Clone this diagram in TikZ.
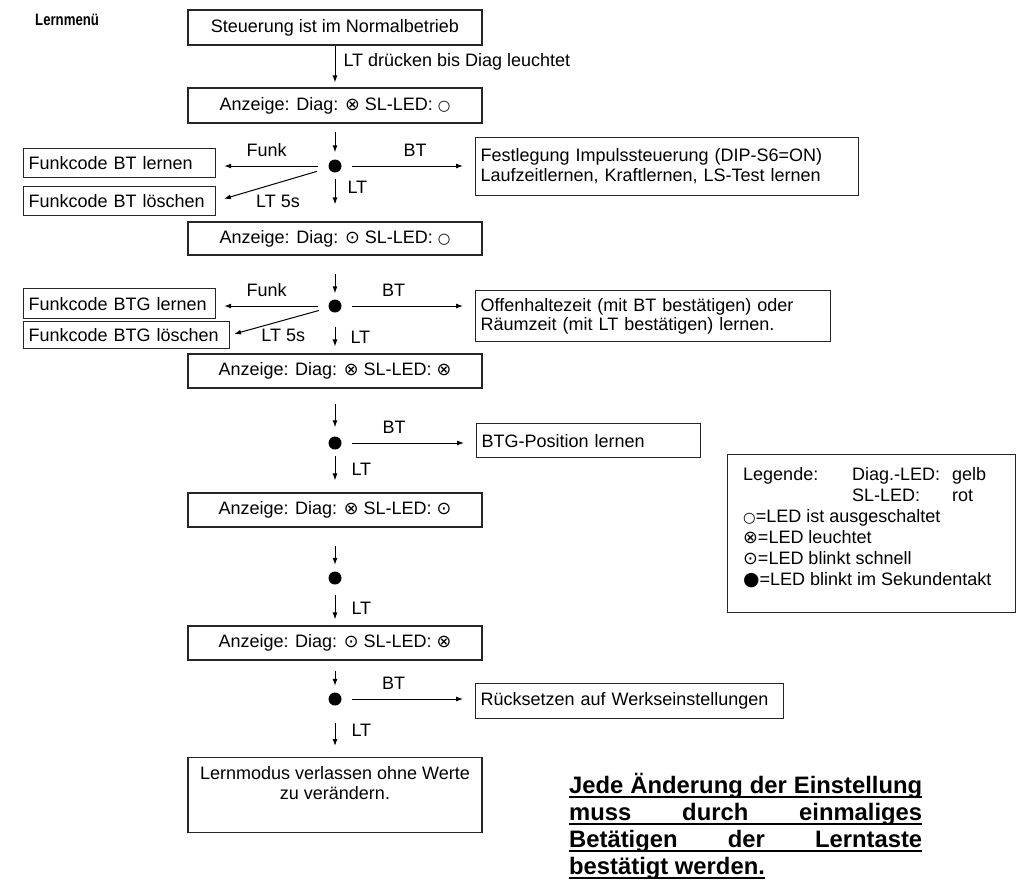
\documentclass[tikz,border=0pt]{standalone}
\usepackage{fontspec}
\setmainfont{Liberation Sans}
\newfontfamily\symf[Scale=0.8]{DejaVu Sans}
\newfontfamily\symg[Scale=0.98]{DejaVu Sans}
\newfontfamily\symh[Scale=1.05]{DejaVu Sans}
\newfontfamily\titlef[FakeStretch=0.8]{Liberation Sans}
\usetikzlibrary{arrows.meta,calc}
\newcommand{\ledoff}{{\symf ○}}
\newcommand{\ledon}{{\symg ⊗}}
\newcommand{\ledfast}{{\symg ⊙}}
\newcommand{\ledsec}{{\symh ●}}
\begin{document}
\begin{tikzpicture}[x=1pt,y=-1pt,
  txt/.style={font=\fontsize{18}{20}\selectfont},
  box/.style={draw=black!85, line width=1.2pt},
  mbox/.style={box, txt, minimum width=294pt, inner sep=0pt},
  sbox/.style={box, txt, anchor=north west, align=left, inner xsep=5pt, inner ysep=0pt},
  dot/.style={circle, fill=black, inner sep=0pt, minimum size=13pt},
  arr/.style={-{Latex[length=7pt,width=5pt]}, line width=1pt},
  lbl/.style={txt, inner sep=0pt},
  bt/.style={font=\bfseries\fontsize{23.8}{27}\selectfont, inner sep=0pt, anchor=base west},
  uline/.style={line width=2pt},
]
\useasboundingbox (0,0) rectangle (1017,879);

% title
\node[anchor=base west, inner sep=0pt, font=\titlef\bfseries\fontsize{16.5}{18}\selectfont] (title) at (35,25) {Lernmenü};

% main column
\node[mbox, minimum height=35pt] (b1) at (335,27.5) {Steuerung ist im Normalbetrieb};
\node[mbox, minimum height=35pt] (b2) at (335,105.5) {Anzeige: Diag: \ledon\ SL-LED: \ledoff};
\node[dot] (d1) at (335,166) {};
\node[mbox, minimum height=33pt] (b3) at (335,238.5) {Anzeige: Diag: \ledfast\ SL-LED: \ledoff};
\node[dot] (d2) at (335,306) {};
\node[mbox, minimum height=34pt] (b4) at (335,371) {Anzeige: Diag: \ledon\ SL-LED: \ledon};
\node[dot] (d3) at (335,443) {};
\node[mbox, minimum height=34pt] (b5) at (335,510) {Anzeige: Diag: \ledon\ SL-LED: \ledfast};
\node[dot] (d4) at (335,578) {};
\node[mbox, minimum height=34pt] (b6) at (335,643) {Anzeige: Diag: \ledfast\ SL-LED: \ledon};
\node[dot] (d5) at (335,699) {};
\node[mbox, minimum height=75pt, anchor=north,
  label={[txt, align=center, anchor=north, yshift=-9pt, inner sep=0pt]north:Lernmodus verlassen ohne Werte\\zu verändern.}] (b7) at (335,757) {};

% side boxes
\node[sbox, text width=182pt, minimum height=29pt] (btlern) at (23,148) {Funkcode BT lernen};
\node[sbox, text width=182pt, minimum height=29pt] (btloe) at (23,186) {Funkcode BT löschen};
\node[sbox, text width=373pt, minimum height=58pt] (fest) at (475,137) {Festlegung Impulssteuerung (DIP-S6=ON)\\Laufzeitlernen, Kraftlernen, LS-Test lernen};
\node[sbox, text width=182pt, minimum height=30pt] (btglern) at (23,288) {Funkcode BTG lernen};
\node[sbox, text width=196pt, minimum height=27pt] (btgloe) at (23,321) {Funkcode BTG löschen};
\node[sbox, text width=345pt, minimum height=51pt, font=\fontsize{18}{18.5}\selectfont] (offen) at (475,290) {Offenhaltezeit (mit BT bestätigen) oder\\Räumzeit (mit LT bestätigen) lernen.};
\node[sbox, text width=214pt, minimum height=34pt] (btgpos) at (476,423) {BTG-Position lernen};
\node[sbox, text width=298pt, minimum height=35pt] (ruecks) at (475,683) {Rücksetzen auf Werkseinstellungen};

% main arrows
\draw[arr, shorten >=5pt] (b1) -- node[lbl, pos=0.4, right=8pt]{LT drücken bis Diag leuchtet} (b2);
\draw[arr, shorten <=8pt, shorten >=7pt] (b2) -- (d1);
\draw[arr, shorten <=6.5pt, shorten >=17pt] (d1) -- node[lbl, pos=0.3, right=12pt]{LT} (b3);
\draw[arr, shorten <=18pt, shorten >=6pt] (b3) -- (d2);
\draw[arr, shorten <=14pt, shorten >=7pt] (d2) -- node[lbl, pos=0.6, right=15pt]{LT} (b4);
\draw[arr, shorten <=15pt, shorten >=9pt] (b4) -- (d3);
\draw[arr, shorten <=6.5pt, shorten >=12pt] (d3) -- node[lbl, pos=0.47, right=16pt]{LT} (b5);
\draw[arr, shorten <=18pt, shorten >=6.5pt] (b5) -- (d4);
\draw[arr, shorten <=10.5pt, shorten >=6pt] (d4) -- node[lbl, pos=0.59, right=16pt]{LT} (b6);
\draw[arr, shorten <=10pt, shorten >=6.5pt] (b6) -- (d5);
\draw[arr, shorten <=17pt, shorten >=11pt] (d5) -- node[lbl, pos=0.48, right=16pt]{LT} (b7);

% branch arrows
\draw[arr, shorten <=10pt, shorten >=8pt] (d1) -- node[lbl, pos=0.55, above=9pt]{Funk} (d1 -| btlern.east);
\draw[arr, shorten <=10pt, shorten >=12pt] (d1) -- node[lbl, pos=0.55, above=9pt]{BT} (d1 -| fest.west);
\draw[arr, shorten <=12pt, shorten >=8pt] (d1) -- node[lbl, pos=0.45, below=12pt]{LT 5s} (btloe.east);

\draw[arr, shorten <=10pt, shorten >=8pt] (d2) -- node[lbl, pos=0.55, above=9pt]{Funk} (d2 -| btglern.east);
\draw[arr, shorten <=10pt, shorten >=12pt] (d2) -- node[lbl, pos=0.39, above=9pt]{BT} (d2 -| offen.west);
\draw[arr, shorten <=10pt, shorten >=4pt] (d2) -- node[lbl, pos=0.46, below=8pt]{LT 5s} (btgloe.east);

\draw[arr, shorten <=10pt, shorten >=12pt] (d3) -- node[lbl, pos=0.39, above=9pt]{BT} (d3 -| btgpos.west);
\draw[arr, shorten <=10pt, shorten >=12pt] (d5) -- node[lbl, pos=0.39, above=9pt]{BT} (d5 -| ruecks.west);

% legend
\node[box, anchor=north west, minimum width=288pt, minimum height=158pt, inner sep=0pt] (leg) at (727,454) {};
\node[anchor=north west, inner sep=0pt, font=\fontsize{18}{21}\selectfont] (legtext) at ([shift={(16,11.3)}]leg.north west) {%
\begin{tabular}{@{}p{109pt}@{}p{100pt}@{}l@{}}
Legende: & Diag.-LED: & gelb\\
 & SL-LED: & rot\\
\multicolumn{3}{@{}l@{}}{\ledoff=LED ist ausgeschaltet}\\
\multicolumn{3}{@{}l@{}}{\ledon=LED leuchtet}\\
\multicolumn{3}{@{}l@{}}{\ledfast=LED blinkt schnell}\\
\multicolumn{3}{@{}l@{}}{\ledsec=LED blinkt im Sekundentakt}
\end{tabular}};

% bold note
\node[bt] (n1) at (569,793) {\makebox[353pt][s]{Jede Änderung der Einstellung}};
\node[bt] (n2) at (569,820) {\makebox[353pt][s]{muss\hfill durch\hfill einmaliges}};
\node[bt] (n3) at (569,847) {\makebox[353pt][s]{Betätigen\hfill der\hfill Lerntaste}};
\node[bt] (n4) at (569,874) {bestätigt werden.};
\foreach \n in {n1,n2,n3,n4}
  \draw[uline] ([yshift=-4pt]\n.base west) -- ([yshift=-4pt]\n.base east);
\end{tikzpicture}
\end{document}
